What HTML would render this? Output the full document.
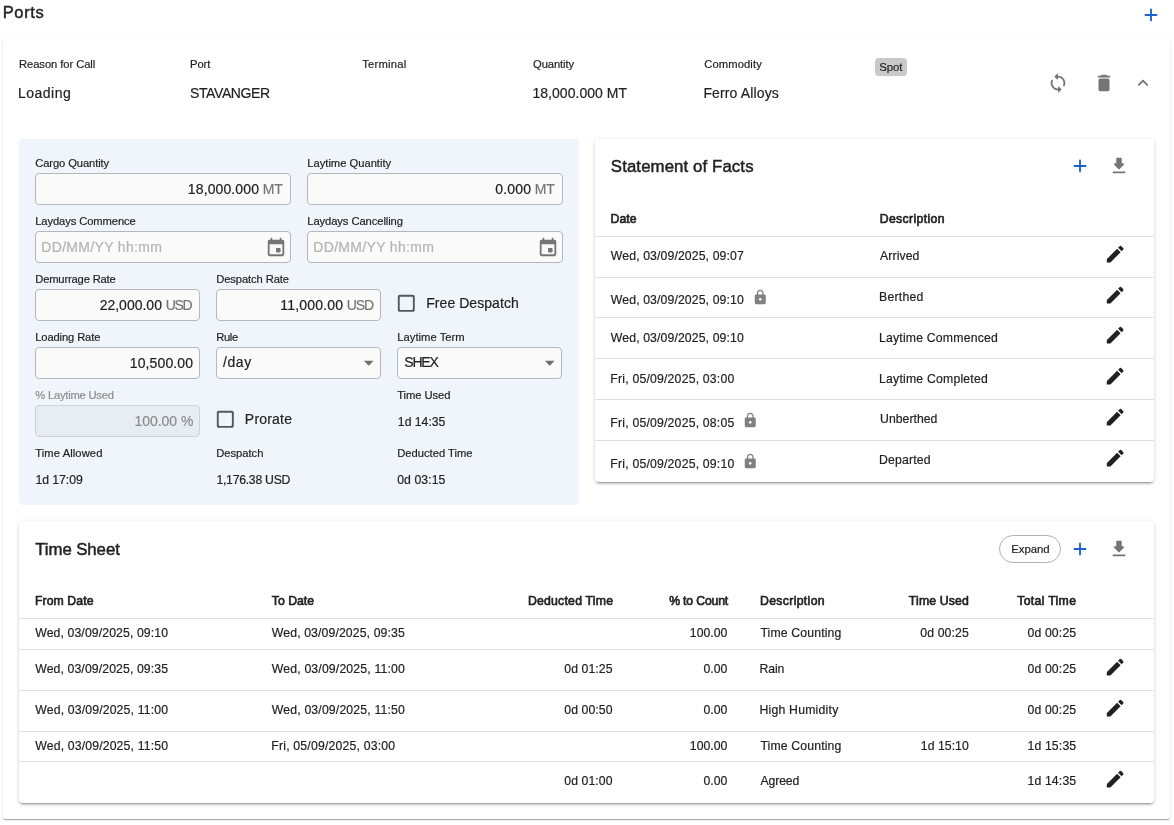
<!DOCTYPE html>
<html lang="en"><head><meta charset="utf-8"><title>Ports</title>
<style>
html,body{margin:0;padding:0;background:#fff;}
body{width:1174px;height:825px;position:relative;overflow:hidden;font-family:"Liberation Sans", sans-serif;color:#212121;}
#w{position:absolute;left:0;top:0;width:1174px;height:825px;will-change:transform;}
.b{position:absolute;}
.i{position:absolute;display:block;}
.t{position:absolute;white-space:pre;font-family:"Liberation Sans", sans-serif;}
.t{-webkit-text-stroke:0.18px currentColor;}
.m{-webkit-text-stroke:0.62px currentColor;}
.h{-webkit-text-stroke:0.45px currentColor;}
.p{-webkit-text-stroke:0.42px currentColor;}
</style></head>
<body>
<div id="w">
<div class="b" style="left:3px;top:35.6px;width:1167.00px;height:783.20px;background:#fff;border-radius:4px 4px 2px 2px;box-shadow:0 2px 1px -1px rgba(0,0,0,.2),0 1px 1px 0 rgba(0,0,0,.14),0 1px 3px 0 rgba(0,0,0,.12);"></div>
<div class="b" style="left:19px;top:139px;width:560.00px;height:366.00px;background:#f0f5fc;border-radius:4px;"></div>
<div class="b" style="left:594.7px;top:138.7px;width:559.30px;height:343.50px;background:#fff;border-radius:4px;box-shadow:0 3px 1px -2px rgba(0,0,0,.2),0 2px 2px 0 rgba(0,0,0,.14),0 1px 5px 0 rgba(0,0,0,.12);"></div>
<div class="b" style="left:18.9px;top:520.7px;width:1135.10px;height:282.50px;background:#fff;border-radius:4px;box-shadow:0 3px 1px -2px rgba(0,0,0,.2),0 2px 2px 0 rgba(0,0,0,.14),0 1px 5px 0 rgba(0,0,0,.12);"></div>
<div class="b" style="left:874.8px;top:58.0px;width:31.80px;height:17.80px;background:#c9c9c9;border-radius:4px;"></div>
<div class="b" style="left:999.0px;top:535.0px;width:61.60px;height:27.60px;border:1px solid #b2b2b2;border-radius:14px;box-sizing:border-box;"></div>
<div class="b" style="left:35px;top:173px;width:256.00px;height:32.00px;box-sizing:border-box;border:1px solid #b4b7bb;border-radius:4px;background:#fafafa;"></div>
<div class="b" style="left:307px;top:173px;width:256.00px;height:32.00px;box-sizing:border-box;border:1px solid #b4b7bb;border-radius:4px;background:#fafafa;"></div>
<div class="b" style="left:35px;top:231px;width:256.00px;height:32.00px;box-sizing:border-box;border:1px solid #b4b7bb;border-radius:4px;background:#fafafa;"></div>
<div class="b" style="left:307px;top:231px;width:256.00px;height:32.00px;box-sizing:border-box;border:1px solid #b4b7bb;border-radius:4px;background:#fafafa;"></div>
<div class="b" style="left:35px;top:289px;width:165.00px;height:32.00px;box-sizing:border-box;border:1px solid #b4b7bb;border-radius:4px;background:#fafafa;"></div>
<div class="b" style="left:216px;top:289px;width:165.00px;height:32.00px;box-sizing:border-box;border:1px solid #b4b7bb;border-radius:4px;background:#fafafa;"></div>
<div class="b" style="left:35px;top:347px;width:165.00px;height:32.00px;box-sizing:border-box;border:1px solid #b4b7bb;border-radius:4px;background:#fafafa;"></div>
<div class="b" style="left:216px;top:347px;width:165.00px;height:32.00px;box-sizing:border-box;border:1px solid #b4b7bb;border-radius:4px;background:#fafafa;"></div>
<div class="b" style="left:397px;top:347px;width:165.00px;height:32.00px;box-sizing:border-box;border:1px solid #b4b7bb;border-radius:4px;background:#fafafa;"></div>
<div class="b" style="left:35px;top:405px;width:165.00px;height:32.00px;box-sizing:border-box;border:1px solid #cfd3d9;border-radius:4px;background:#e8ecf3;"></div>
<div class="b" style="left:594.7px;top:236px;width:559.30px;height:1.00px;background:#e0e0e0;"></div>
<div class="b" style="left:594.7px;top:277px;width:559.30px;height:1.00px;background:#e0e0e0;"></div>
<div class="b" style="left:594.7px;top:317px;width:559.30px;height:1.00px;background:#e0e0e0;"></div>
<div class="b" style="left:594.7px;top:358px;width:559.30px;height:1.00px;background:#e0e0e0;"></div>
<div class="b" style="left:594.7px;top:399px;width:559.30px;height:1.00px;background:#e0e0e0;"></div>
<div class="b" style="left:594.7px;top:440px;width:559.30px;height:1.00px;background:#e0e0e0;"></div>
<div class="b" style="left:18.9px;top:618px;width:1135.10px;height:1.00px;background:#e0e0e0;"></div>
<div class="b" style="left:18.9px;top:649px;width:1135.10px;height:1.00px;background:#e0e0e0;"></div>
<div class="b" style="left:18.9px;top:690px;width:1135.10px;height:1.00px;background:#e0e0e0;"></div>
<div class="b" style="left:18.9px;top:731px;width:1135.10px;height:1.00px;background:#e0e0e0;"></div>
<div class="b" style="left:18.9px;top:761px;width:1135.10px;height:1.00px;background:#e0e0e0;"></div>
<svg class="i" style="left:1140.20px;top:4.40px;width:22px;height:22px" viewBox="0 0 24 24"><path fill="#1a62d0" d="M18 13h-5v5c0 .55-.45 1-1 1s-1-.45-1-1v-5H6c-.55 0-1-.45-1-1s.45-1 1-1h5V6c0-.55.45-1 1-1s1 .45 1 1v5h5c.55 0 1 .45 1 1s-.45 1-1 1z"/></svg>
<svg class="i" style="left:1047.20px;top:72.10px;width:22px;height:22px" viewBox="0 0 24 24"><path fill="#757575" d="M12 4V2.21c0-.45-.54-.67-.85-.35l-2.8 2.79c-.2.2-.2.51 0 .71l2.79 2.79c.32.31.86.09.86-.36V6c3.31 0 6 2.69 6 6 0 .79-.15 1.56-.44 2.25-.15.36-.04.77.23 1.04.51.51 1.37.33 1.64-.34.37-.91.57-1.91.57-2.95 0-4.42-3.58-8-8-8zm0 14c-3.31 0-6-2.69-6-6 0-.79.15-1.56.44-2.25.15-.36.04-.77-.23-1.04-.51-.51-1.37-.33-1.64.34C4.2 9.96 4 10.96 4 12c0 4.42 3.58 8 8 8v1.790c0 .45.54.67.85.35l2.790-2.790c.2-.2.2-.51 0-.71l-2.790-2.790c-.31-.31-.85-.09-.85.36V18z"/></svg>
<svg class="i" style="left:1093.25px;top:72.00px;width:22px;height:22px" viewBox="0 0 24 24"><path fill="#757575" d="M6 19c0 1.1.9 2 2 2h8c1.1 0 2-.9 2-2V9c0-1.1-.9-2-2-2H8c-1.1 0-2 .9-2 2v10zM18 4h-2.500l-.71-.71c-.18-.18-.44-.29-.7-.29H9.910c-.26 0-.52.11-.7.29L8.500 4H6c-.55 0-1 .45-1 1s.45 1 1 1h12c.55 0 1-.45 1-1s-.45-1-1-1z"/></svg>
<svg class="i" style="left:1132.45px;top:72.10px;width:22px;height:22px" viewBox="0 0 24 24"><path fill="#757575" d="M11.29 8.710L6.700 13.300c-.39.39-.39 1.020 0 1.410.39.39 1.020.39 1.410 0L12 10.830l3.880 3.880c.39.39 1.020.39 1.410 0 .39-.39.39-1.020 0-1.410L12.700 8.710c-.38-.39-1.020-.39-1.410 0z"/></svg>
<svg class="i" style="left:1069.10px;top:155.30px;width:22px;height:22px" viewBox="0 0 24 24"><path fill="#1a62d0" d="M18 13h-5v5c0 .55-.45 1-1 1s-1-.45-1-1v-5H6c-.55 0-1-.45-1-1s.45-1 1-1h5V6c0-.55.45-1 1-1s1 .45 1 1v5h5c.55 0 1 .45 1 1s-.45 1-1 1z"/></svg>
<svg class="i" style="left:1108.30px;top:155.30px;width:22px;height:22px" viewBox="0 0 24 24"><path fill="#757575" d="M16.59 9H15V4c0-.55-.45-1-1-1h-4c-.55 0-1 .45-1 1v5H7.410c-.89 0-1.340 1.080-.71 1.710l4.590 4.590c.39.39 1.020.39 1.410 0l4.590-4.590c.63-.63.19-1.710-.7-1.710zM5 19c0 .55.45 1 1 1h12c.55 0 1-.45 1-1s-.45-1-1-1H6c-.55 0-1 .45-1 1z"/></svg>
<svg class="i" style="left:1069.10px;top:538.25px;width:22px;height:22px" viewBox="0 0 24 24"><path fill="#1a62d0" d="M18 13h-5v5c0 .55-.45 1-1 1s-1-.45-1-1v-5H6c-.55 0-1-.45-1-1s.45-1 1-1h5V6c0-.55.45-1 1-1s1 .45 1 1v5h5c.55 0 1 .45 1 1s-.45 1-1 1z"/></svg>
<svg class="i" style="left:1108.30px;top:538.25px;width:22px;height:22px" viewBox="0 0 24 24"><path fill="#757575" d="M16.59 9H15V4c0-.55-.45-1-1-1h-4c-.55 0-1 .45-1 1v5H7.410c-.89 0-1.340 1.080-.71 1.710l4.590 4.590c.39.39 1.020.39 1.410 0l4.590-4.590c.63-.63.19-1.710-.7-1.710zM5 19c0 .55.45 1 1 1h12c.55 0 1-.45 1-1s-.45-1-1-1H6c-.55 0-1 .45-1 1z"/></svg>
<svg class="i" style="left:1104.10px;top:242.80px;width:22.4px;height:22.4px" viewBox="0 0 24 24"><path fill="#212121" d="M3 17.46v3.04c0 .28.22.5.5.5h3.04c.13 0 .26-.05.35-.15L17.81 9.94l-3.75-3.75L3.15 17.1c-.1.1-.15.22-.15.36zM20.71 7.04c.39-.39.39-1.02 0-1.41l-2.34-2.34a.9959.9959 0 0 0-1.41 0l-1.83 1.83 3.75 3.75 1.83-1.83z"/></svg>
<svg class="i" style="left:1104.10px;top:283.60px;width:22.4px;height:22.4px" viewBox="0 0 24 24"><path fill="#212121" d="M3 17.46v3.04c0 .28.22.5.5.5h3.04c.13 0 .26-.05.35-.15L17.81 9.94l-3.75-3.75L3.15 17.1c-.1.1-.15.22-.15.36zM20.71 7.04c.39-.39.39-1.02 0-1.41l-2.34-2.34a.9959.9959 0 0 0-1.41 0l-1.83 1.83 3.75 3.75 1.83-1.83z"/></svg>
<svg class="i" style="left:1104.10px;top:324.40px;width:22.4px;height:22.4px" viewBox="0 0 24 24"><path fill="#212121" d="M3 17.46v3.04c0 .28.22.5.5.5h3.04c.13 0 .26-.05.35-.15L17.81 9.94l-3.75-3.75L3.15 17.1c-.1.1-.15.22-.15.36zM20.71 7.04c.39-.39.39-1.02 0-1.41l-2.34-2.34a.9959.9959 0 0 0-1.41 0l-1.83 1.83 3.75 3.75 1.83-1.83z"/></svg>
<svg class="i" style="left:1104.10px;top:365.20px;width:22.4px;height:22.4px" viewBox="0 0 24 24"><path fill="#212121" d="M3 17.46v3.04c0 .28.22.5.5.5h3.04c.13 0 .26-.05.35-.15L17.81 9.94l-3.75-3.75L3.15 17.1c-.1.1-.15.22-.15.36zM20.71 7.04c.39-.39.39-1.02 0-1.41l-2.34-2.34a.9959.9959 0 0 0-1.41 0l-1.83 1.83 3.75 3.75 1.83-1.83z"/></svg>
<svg class="i" style="left:1104.10px;top:406.00px;width:22.4px;height:22.4px" viewBox="0 0 24 24"><path fill="#212121" d="M3 17.46v3.04c0 .28.22.5.5.5h3.04c.13 0 .26-.05.35-.15L17.81 9.94l-3.75-3.75L3.15 17.1c-.1.1-.15.22-.15.36zM20.71 7.04c.39-.39.39-1.02 0-1.41l-2.34-2.34a.9959.9959 0 0 0-1.41 0l-1.83 1.83 3.75 3.75 1.83-1.83z"/></svg>
<svg class="i" style="left:1104.10px;top:446.80px;width:22.4px;height:22.4px" viewBox="0 0 24 24"><path fill="#212121" d="M3 17.46v3.04c0 .28.22.5.5.5h3.04c.13 0 .26-.05.35-.15L17.81 9.94l-3.75-3.75L3.15 17.1c-.1.1-.15.22-.15.36zM20.71 7.04c.39-.39.39-1.02 0-1.41l-2.34-2.34a.9959.9959 0 0 0-1.41 0l-1.83 1.83 3.75 3.75 1.83-1.83z"/></svg>
<svg class="i" style="left:1104.10px;top:655.80px;width:22.4px;height:22.4px" viewBox="0 0 24 24"><path fill="#212121" d="M3 17.46v3.04c0 .28.22.5.5.5h3.04c.13 0 .26-.05.35-.15L17.81 9.94l-3.75-3.75L3.15 17.1c-.1.1-.15.22-.15.36zM20.71 7.04c.39-.39.39-1.02 0-1.41l-2.34-2.34a.9959.9959 0 0 0-1.41 0l-1.83 1.83 3.75 3.75 1.83-1.83z"/></svg>
<svg class="i" style="left:1104.10px;top:696.80px;width:22.4px;height:22.4px" viewBox="0 0 24 24"><path fill="#212121" d="M3 17.46v3.04c0 .28.22.5.5.5h3.04c.13 0 .26-.05.35-.15L17.81 9.94l-3.75-3.75L3.15 17.1c-.1.1-.15.22-.15.36zM20.71 7.04c.39-.39.39-1.02 0-1.41l-2.34-2.34a.9959.9959 0 0 0-1.41 0l-1.83 1.83 3.75 3.75 1.83-1.83z"/></svg>
<svg class="i" style="left:1104.10px;top:767.80px;width:22.4px;height:22.4px" viewBox="0 0 24 24"><path fill="#212121" d="M3 17.46v3.04c0 .28.22.5.5.5h3.04c.13 0 .26-.05.35-.15L17.81 9.94l-3.75-3.75L3.15 17.1c-.1.1-.15.22-.15.36zM20.71 7.04c.39-.39.39-1.02 0-1.41l-2.34-2.34a.9959.9959 0 0 0-1.41 0l-1.83 1.83 3.75 3.75 1.83-1.83z"/></svg>
<svg class="i" style="left:752.15px;top:289.09px;width:16.5px;height:16.5px" viewBox="0 0 24 24"><path fill="#808080" d="M18 8h-1V6c0-2.76-2.24-5-5-5S7 3.24 7 6v2H6c-1.1 0-2 .9-2 2v10c0 1.1.9 2 2 2h12c1.1 0 2-.9 2-2V10c0-1.1-.9-2-2-2zm-6 9c-1.1 0-2-.9-2-2s.9-2 2-2 2 .9 2 2-.9 2-2 2zm3.1-9H8.9V6c0-1.71 1.39-3.1 3.1-3.1 1.71 0 3.1 1.39 3.1 3.1v2z"/></svg>
<svg class="i" style="left:742.05px;top:411.89px;width:16.5px;height:16.5px" viewBox="0 0 24 24"><path fill="#808080" d="M18 8h-1V6c0-2.76-2.24-5-5-5S7 3.24 7 6v2H6c-1.1 0-2 .9-2 2v10c0 1.1.9 2 2 2h12c1.1 0 2-.9 2-2V10c0-1.1-.9-2-2-2zm-6 9c-1.1 0-2-.9-2-2s.9-2 2-2 2 .9 2 2-.9 2-2 2zm3.1-9H8.9V6c0-1.71 1.39-3.1 3.1-3.1 1.71 0 3.1 1.39 3.1 3.1v2z"/></svg>
<svg class="i" style="left:742.05px;top:452.89px;width:16.5px;height:16.5px" viewBox="0 0 24 24"><path fill="#808080" d="M18 8h-1V6c0-2.76-2.24-5-5-5S7 3.24 7 6v2H6c-1.1 0-2 .9-2 2v10c0 1.1.9 2 2 2h12c1.1 0 2-.9 2-2V10c0-1.1-.9-2-2-2zm-6 9c-1.1 0-2-.9-2-2s.9-2 2-2 2 .9 2 2-.9 2-2 2zm3.1-9H8.9V6c0-1.71 1.39-3.1 3.1-3.1 1.71 0 3.1 1.39 3.1 3.1v2z"/></svg>
<svg class="i" style="left:265.40px;top:235.50px;width:22px;height:22px" viewBox="0 0 24 24"><path fill="#757575" d="M16 13h-3c-.55 0-1 .45-1 1v3c0 .55.45 1 1 1h3c.55 0 1-.45 1-1v-3c0-.55-.45-1-1-1zm0-10v1H8V3c0-.55-.45-1-1-1s-1 .45-1 1v1H5c-1.110 0-1.990.9-1.990 2L3 20c0 1.100.89 2 2 2h14c1.100 0 2-.9 2-2V6c0-1.100-.9-2-2-2h-1V3c0-.55-.45-1-1-1s-1 .45-1 1zm2 17H6c-.55 0-1-.45-1-1V9h14v10c0 .55-.45 1-1 1z"/></svg>
<svg class="i" style="left:537.40px;top:235.50px;width:22px;height:22px" viewBox="0 0 24 24"><path fill="#757575" d="M16 13h-3c-.55 0-1 .45-1 1v3c0 .55.45 1 1 1h3c.55 0 1-.45 1-1v-3c0-.55-.45-1-1-1zm0-10v1H8V3c0-.55-.45-1-1-1s-1 .45-1 1v1H5c-1.110 0-1.990.9-1.990 2L3 20c0 1.100.89 2 2 2h14c1.100 0 2-.9 2-2V6c0-1.100-.9-2-2-2h-1V3c0-.55-.45-1-1-1s-1 .45-1 1zm2 17H6c-.55 0-1-.45-1-1V9h14v10c0 .55-.45 1-1 1z"/></svg>
<svg class="i" style="left:394.90px;top:291.80px;width:22.6px;height:22.6px" viewBox="0 0 24 24"><path fill="#54575c" d="M18 19H6c-.55 0-1-.45-1-1V6c0-.55.45-1 1-1h12c.55 0 1 .45 1 1v12c0 .55-.45 1-1 1zm1-16H5c-1.100 0-2 .9-2 2v14c0 1.100.9 2 2 2h14c1.100 0 2-.9 2-2V5c0-1.100-.9-2-2-2z"/></svg>
<svg class="i" style="left:213.90px;top:408.10px;width:22.6px;height:22.6px" viewBox="0 0 24 24"><path fill="#54575c" d="M18 19H6c-.55 0-1-.45-1-1V6c0-.55.45-1 1-1h12c.55 0 1 .45 1 1v12c0 .55-.45 1-1 1zm1-16H5c-1.100 0-2 .9-2 2v14c0 1.100.9 2 2 2h14c1.100 0 2-.9 2-2V5c0-1.100-.9-2-2-2z"/></svg>
<svg class="i" style="left:357.35px;top:351.05px;width:23.5px;height:23.5px" viewBox="0 0 24 24"><path fill="#6f6f6f" d="M7 10l5 5 5-5z"/></svg>
<svg class="i" style="left:538.45px;top:351.05px;width:23.5px;height:23.5px" viewBox="0 0 24 24"><path fill="#6f6f6f" d="M7 10l5 5 5-5z"/></svg>
<span class="t p" style="left:2.65px;top:4px;font-size:16.5px;line-height:16.5px;letter-spacing:0.660px;">Ports</span>
<span class="t" style="left:19.05px;top:59px;font-size:11.2px;line-height:11.2px;letter-spacing:-0.066px;">Reason for Call</span>
<span class="t" style="left:190.05px;top:59px;font-size:11.2px;line-height:11.2px;letter-spacing:-0.103px;">Port</span>
<span class="t" style="left:362.25px;top:59px;font-size:11.2px;line-height:11.2px;letter-spacing:0.244px;">Terminal</span>
<span class="t" style="left:533.05px;top:59px;font-size:11.2px;line-height:11.2px;letter-spacing:-0.081px;">Quantity</span>
<span class="t" style="left:704.25px;top:59px;font-size:11.2px;line-height:11.2px;letter-spacing:0.115px;">Commodity</span>
<span class="t" style="left:18.05px;top:86px;font-size:14px;line-height:14px;letter-spacing:0.476px;">Loading</span>
<span class="t" style="left:190.05px;top:86px;font-size:14px;line-height:14px;letter-spacing:-0.403px;">STAVANGER</span>
<span class="t" style="left:532.45px;top:86px;font-size:14px;line-height:14px;letter-spacing:0.040px;">18,000.000 MT</span>
<span class="t" style="left:703.45px;top:86px;font-size:14px;line-height:14px;letter-spacing:0.129px;">Ferro Alloys</span>
<span class="t" style="left:879.25px;top:62px;font-size:11.4px;line-height:11.4px;letter-spacing:-0.056px;">Spot</span>
<span class="t" style="left:35.25px;top:158px;font-size:11.2px;line-height:11.2px;letter-spacing:-0.104px;">Cargo Quantity</span>
<span class="t" style="left:307.25px;top:158px;font-size:11.2px;line-height:11.2px;letter-spacing:-0.003px;">Laytime Quantity</span>
<span class="t" style="left:35.25px;top:216px;font-size:11.2px;line-height:11.2px;letter-spacing:-0.097px;">Laydays Commence</span>
<span class="t" style="left:307.25px;top:216px;font-size:11.2px;line-height:11.2px;letter-spacing:-0.076px;">Laydays Cancelling</span>
<span class="t" style="left:35.25px;top:274px;font-size:11.2px;line-height:11.2px;letter-spacing:-0.167px;">Demurrage Rate</span>
<span class="t" style="left:216.25px;top:274px;font-size:11.2px;line-height:11.2px;letter-spacing:-0.107px;">Despatch Rate</span>
<span class="t" style="left:35.25px;top:332px;font-size:11.2px;line-height:11.2px;letter-spacing:-0.130px;">Loading Rate</span>
<span class="t" style="left:216.25px;top:332px;font-size:11.2px;line-height:11.2px;letter-spacing:-0.362px;">Rule</span>
<span class="t" style="left:397.25px;top:332px;font-size:11.2px;line-height:11.2px;letter-spacing:0.044px;">Laytime Term</span>
<span class="t" style="left:35.25px;top:390px;font-size:11.2px;line-height:11.2px;letter-spacing:-0.210px;color:#8c8c8c;">% Laytime Used</span>
<span class="t" style="left:397.25px;top:390px;font-size:11.2px;line-height:11.2px;letter-spacing:-0.069px;">Time Used</span>
<span class="t" style="left:35.25px;top:448px;font-size:11.2px;line-height:11.2px;letter-spacing:0.090px;">Time Allowed</span>
<span class="t" style="left:216.25px;top:448px;font-size:11.2px;line-height:11.2px;letter-spacing:-0.020px;">Despatch</span>
<span class="t" style="left:397.25px;top:448px;font-size:11.2px;line-height:11.2px;letter-spacing:0.006px;">Deducted Time</span>
<span class="t" style="left:187.85px;top:182px;font-size:14px;line-height:14px;letter-spacing:0.113px;">18,000.000</span>
<span class="t" style="left:262.75px;top:182px;font-size:14px;line-height:14px;letter-spacing:-0.262px;color:#757575;">MT</span>
<span class="t" style="left:495.25px;top:182px;font-size:14px;line-height:14px;letter-spacing:0.163px;">0.000</span>
<span class="t" style="left:534.75px;top:182px;font-size:14px;line-height:14px;letter-spacing:-0.262px;color:#757575;">MT</span>
<span class="t" style="left:41.25px;top:240px;font-size:14px;line-height:14px;letter-spacing:0.330px;color:#b3b3b3;">DD/MM/YY hh:mm</span>
<span class="t" style="left:313.25px;top:240px;font-size:14px;line-height:14px;letter-spacing:0.330px;color:#b3b3b3;">DD/MM/YY hh:mm</span>
<span class="t" style="left:99.65px;top:298px;font-size:14px;line-height:14px;letter-spacing:0.000px;">22,000.00</span>
<span class="t" style="left:165.85px;top:298px;font-size:14px;line-height:14px;letter-spacing:-1.374px;color:#757575;">USD</span>
<span class="t" style="left:280.25px;top:298px;font-size:14px;line-height:14px;letter-spacing:0.180px;">11,000.00</span>
<span class="t" style="left:346.85px;top:298px;font-size:14px;line-height:14px;letter-spacing:-1.174px;color:#757575;">USD</span>
<span class="t" style="left:426.25px;top:296px;font-size:14px;line-height:14px;letter-spacing:0.055px;">Free Despatch</span>
<span class="t" style="left:129.85px;top:356px;font-size:14px;line-height:14px;letter-spacing:0.100px;">10,500.00</span>
<span class="t" style="left:223.05px;top:355px;font-size:14px;line-height:14px;letter-spacing:0.546px;">/day</span>
<span class="t" style="left:404.25px;top:355px;font-size:14px;line-height:14px;letter-spacing:-1.162px;">SHEX</span>
<span class="t" style="left:134.45px;top:414px;font-size:14px;line-height:14px;letter-spacing:-0.030px;color:#8c8c8c;">100.00 %</span>
<span class="t" style="left:244.85px;top:412px;font-size:14px;line-height:14px;letter-spacing:0.196px;">Prorate</span>
<span class="t" style="left:397.85px;top:416px;font-size:12.25px;line-height:12.25px;letter-spacing:-0.024px;">1d 14:35</span>
<span class="t" style="left:35.45px;top:474px;font-size:12.25px;line-height:12.25px;letter-spacing:-0.053px;">1d 17:09</span>
<span class="t" style="left:216.45px;top:474px;font-size:12.25px;line-height:12.25px;letter-spacing:-0.273px;">1,176.38 USD</span>
<span class="t" style="left:397.25px;top:474px;font-size:12.25px;line-height:12.25px;letter-spacing:0.061px;">0d 03:15</span>
<span class="t h" style="left:610.85px;top:159px;font-size:16.8px;line-height:16.8px;letter-spacing:0.109px;">Statement of Facts</span>
<span class="t m" style="left:610.55px;top:213px;font-size:12.25px;line-height:12.25px;letter-spacing:0.079px;">Date</span>
<span class="t m" style="left:879.75px;top:213px;font-size:12.25px;line-height:12.25px;letter-spacing:0.344px;">Description</span>
<span class="t" style="left:610.85px;top:250px;font-size:12.25px;line-height:12.25px;letter-spacing:0.113px;">Wed, 03/09/2025, 09:07</span>
<span class="t" style="left:880.05px;top:250px;font-size:12.25px;line-height:12.25px;letter-spacing:0.085px;">Arrived</span>
<span class="t" style="left:610.85px;top:294px;font-size:12.25px;line-height:12.25px;letter-spacing:0.113px;">Wed, 03/09/2025, 09:10</span>
<span class="t" style="left:879.05px;top:291px;font-size:12.25px;line-height:12.25px;letter-spacing:0.235px;">Berthed</span>
<span class="t" style="left:610.85px;top:332px;font-size:12.25px;line-height:12.25px;letter-spacing:0.113px;">Wed, 03/09/2025, 09:10</span>
<span class="t" style="left:879.05px;top:332px;font-size:12.25px;line-height:12.25px;letter-spacing:0.186px;">Laytime Commenced</span>
<span class="t" style="left:610.35px;top:373px;font-size:12.25px;line-height:12.25px;letter-spacing:0.193px;">Fri, 05/09/2025, 03:00</span>
<span class="t" style="left:879.05px;top:373px;font-size:12.25px;line-height:12.25px;letter-spacing:0.199px;">Laytime Completed</span>
<span class="t" style="left:610.35px;top:417px;font-size:12.25px;line-height:12.25px;letter-spacing:0.193px;">Fri, 05/09/2025, 08:05</span>
<span class="t" style="left:880.05px;top:413px;font-size:12.25px;line-height:12.25px;letter-spacing:0.013px;">Unberthed</span>
<span class="t" style="left:610.35px;top:458px;font-size:12.25px;line-height:12.25px;letter-spacing:0.193px;">Fri, 05/09/2025, 09:10</span>
<span class="t" style="left:879.05px;top:454px;font-size:12.25px;line-height:12.25px;letter-spacing:0.160px;">Departed</span>
<span class="t h" style="left:35.25px;top:542px;font-size:16.8px;line-height:16.8px;letter-spacing:-0.069px;">Time Sheet</span>
<span class="t" style="left:1011.25px;top:544px;font-size:11.4px;line-height:11.4px;letter-spacing:-0.080px;">Expand</span>
<span class="t m" style="left:34.95px;top:595px;font-size:12.25px;line-height:12.25px;letter-spacing:0.082px;">From Date</span>
<span class="t m" style="left:271.85px;top:595px;font-size:12.25px;line-height:12.25px;letter-spacing:-0.017px;">To Date</span>
<span class="t m" style="left:527.95px;top:595px;font-size:12.25px;line-height:12.25px;letter-spacing:0.225px;">Deducted Time</span>
<span class="t m" style="left:669.15px;top:595px;font-size:12.25px;line-height:12.25px;letter-spacing:-0.167px;">% to Count</span>
<span class="t m" style="left:759.95px;top:595px;font-size:12.25px;line-height:12.25px;letter-spacing:0.344px;">Description</span>
<span class="t m" style="left:908.85px;top:595px;font-size:12.25px;line-height:12.25px;letter-spacing:0.143px;">Time Used</span>
<span class="t m" style="left:1017.25px;top:595px;font-size:12.25px;line-height:12.25px;letter-spacing:0.319px;">Total Time</span>
<span class="t" style="left:35.25px;top:627px;font-size:12.25px;line-height:12.25px;letter-spacing:0.103px;">Wed, 03/09/2025, 09:10</span>
<span class="t" style="left:271.85px;top:627px;font-size:12.25px;line-height:12.25px;letter-spacing:0.113px;">Wed, 03/09/2025, 09:35</span>
<span class="t" style="left:689.85px;top:627px;font-size:12.25px;line-height:12.25px;letter-spacing:0.009px;">100.00</span>
<span class="t" style="left:760.45px;top:627px;font-size:12.25px;line-height:12.25px;letter-spacing:0.142px;">Time Counting</span>
<span class="t" style="left:920.25px;top:627px;font-size:12.25px;line-height:12.25px;letter-spacing:0.118px;">0d 00:25</span>
<span class="t" style="left:1027.45px;top:627px;font-size:12.25px;line-height:12.25px;letter-spacing:0.147px;">0d 00:25</span>
<span class="t" style="left:35.25px;top:663px;font-size:12.25px;line-height:12.25px;letter-spacing:0.103px;">Wed, 03/09/2025, 09:35</span>
<span class="t" style="left:271.85px;top:663px;font-size:12.25px;line-height:12.25px;letter-spacing:0.156px;">Wed, 03/09/2025, 11:00</span>
<span class="t" style="left:564.25px;top:663px;font-size:12.25px;line-height:12.25px;letter-spacing:0.090px;">0d 01:25</span>
<span class="t" style="left:703.45px;top:663px;font-size:12.25px;line-height:12.25px;letter-spacing:0.024px;">0.00</span>
<span class="t" style="left:759.45px;top:663px;font-size:12.25px;line-height:12.25px;letter-spacing:-0.094px;">Rain</span>
<span class="t" style="left:1027.45px;top:663px;font-size:12.25px;line-height:12.25px;letter-spacing:0.147px;">0d 00:25</span>
<span class="t" style="left:35.25px;top:704px;font-size:12.25px;line-height:12.25px;letter-spacing:0.147px;">Wed, 03/09/2025, 11:00</span>
<span class="t" style="left:271.85px;top:704px;font-size:12.25px;line-height:12.25px;letter-spacing:0.156px;">Wed, 03/09/2025, 11:50</span>
<span class="t" style="left:564.25px;top:704px;font-size:12.25px;line-height:12.25px;letter-spacing:0.090px;">0d 00:50</span>
<span class="t" style="left:703.45px;top:704px;font-size:12.25px;line-height:12.25px;letter-spacing:0.024px;">0.00</span>
<span class="t" style="left:759.45px;top:704px;font-size:12.25px;line-height:12.25px;letter-spacing:0.215px;">High Humidity</span>
<span class="t" style="left:1027.45px;top:704px;font-size:12.25px;line-height:12.25px;letter-spacing:0.147px;">0d 00:25</span>
<span class="t" style="left:35.25px;top:740px;font-size:12.25px;line-height:12.25px;letter-spacing:0.147px;">Wed, 03/09/2025, 11:50</span>
<span class="t" style="left:271.35px;top:740px;font-size:12.25px;line-height:12.25px;letter-spacing:0.183px;">Fri, 05/09/2025, 03:00</span>
<span class="t" style="left:689.85px;top:740px;font-size:12.25px;line-height:12.25px;letter-spacing:0.009px;">100.00</span>
<span class="t" style="left:760.45px;top:740px;font-size:12.25px;line-height:12.25px;letter-spacing:0.142px;">Time Counting</span>
<span class="t" style="left:920.85px;top:740px;font-size:12.25px;line-height:12.25px;letter-spacing:0.033px;">1d 15:10</span>
<span class="t" style="left:1027.45px;top:740px;font-size:12.25px;line-height:12.25px;letter-spacing:0.147px;">1d 15:35</span>
<span class="t" style="left:564.25px;top:775px;font-size:12.25px;line-height:12.25px;letter-spacing:0.090px;">0d 01:00</span>
<span class="t" style="left:703.45px;top:775px;font-size:12.25px;line-height:12.25px;letter-spacing:0.024px;">0.00</span>
<span class="t" style="left:760.45px;top:775px;font-size:12.25px;line-height:12.25px;letter-spacing:-0.118px;">Agreed</span>
<span class="t" style="left:1027.45px;top:775px;font-size:12.25px;line-height:12.25px;letter-spacing:0.147px;">1d 14:35</span>
</div>
</body></html>
